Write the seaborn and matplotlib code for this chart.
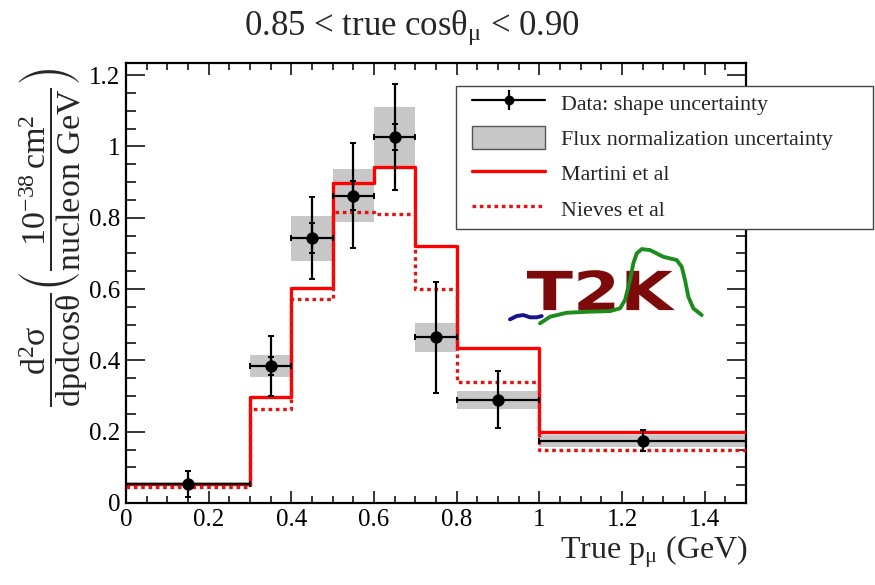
import numpy as np
import pandas as pd
import matplotlib
matplotlib.use("Agg")
import matplotlib.pyplot as plt
import seaborn as sns
from matplotlib.lines import Line2D
from matplotlib.patches import Patch, PathPatch, Rectangle
from matplotlib.textpath import TextPath
from matplotlib.font_manager import FontProperties
from matplotlib.transforms import Affine2D

# ---- binning and measured cross section (0.85 < cos theta < 0.90) ----
bin_edges = [0.0, 0.3, 0.4, 0.5, 0.6, 0.7, 0.8, 1.0, 1.5]
data_xsec = [0.053, 0.384, 0.742, 0.862, 1.027, 0.465, 0.289, 0.175]
shape_err = [0.037, 0.084, 0.115, 0.148, 0.148, 0.156, 0.080, 0.029]
inner_err = [0.000, 0.026, 0.042, 0.041, 0.037, 0.000, 0.000, 0.000]
flux_err = [0.005, 0.032, 0.064, 0.075, 0.085, 0.041, 0.025, 0.017]

# ---- model predictions ----
martini = [0.053, 0.296, 0.604, 0.898, 0.943, 0.720, 0.434, 0.200]
nieves = [0.046, 0.264, 0.572, 0.817, 0.810, 0.600, 0.338, 0.150]

# ---- experiment logo trace ----
wave_green_x = [1.0016, 1.0258, 1.0662, 1.1146, 1.1710, 1.1952, 1.2073, 1.2194,
                1.2274, 1.2356, 1.2477, 1.2677, 1.2999, 1.3323, 1.3444, 1.3524,
                1.3604, 1.3725, 1.3928]
wave_green_y = [0.5038, 0.5223, 0.5335, 0.5363, 0.5383, 0.5459, 0.5692, 0.6252,
                0.6720, 0.7001, 0.7121, 0.7093, 0.6905, 0.6813, 0.6625, 0.6252,
                0.5784, 0.5459, 0.5271]
wave_blue_x = [0.9290, 0.9452, 0.9612, 0.9774, 0.9936, 1.0057]
wave_blue_y = [0.5150, 0.5243, 0.5271, 0.5207, 0.5207, 0.5243]

edges = np.array(bin_edges)
lo, hi = edges[:-1], edges[1:]
centers = 0.5 * (lo + hi)
half_w = 0.5 * (hi - lo)
vals = np.array(data_xsec)

sns.set_style("ticks")
plt.rcParams["font.family"] = ["Liberation Serif", "DejaVu Serif"]
plt.rcParams["mathtext.fontset"] = "custom"
plt.rcParams["mathtext.rm"] = "Liberation Serif"
plt.rcParams["mathtext.it"] = "Liberation Serif"
plt.rcParams["mathtext.bf"] = "Liberation Serif:bold"
plt.rcParams["mathtext.fallback"] = "stix"

fig = plt.figure(figsize=(8.75, 5.85), dpi=100)
ax = fig.add_axes([0.144, 0.1402, 0.7086, 0.7521])

# flux normalisation boxes
ax.bar(lo, 2 * np.array(flux_err), bottom=vals - np.array(flux_err),
       width=hi - lo, align="edge", color="#c8c8c8", edgecolor="none", zorder=1)

# model step histograms
steps = pd.DataFrame({
    "p": np.concatenate([edges, edges]),
    "xsec": np.concatenate([np.append(martini, martini[-1]), np.append(nieves, nieves[-1])]),
    "model": ["Martini et al"] * len(edges) + ["Nieves et al"] * len(edges),
})
sns.lineplot(data=steps[steps.model == "Martini et al"], x="p", y="xsec",
             estimator=None, drawstyle="steps-post", color="#ff0000", lw=2.4,
             ax=ax, zorder=3, legend=False)
sns.lineplot(data=steps[steps.model == "Nieves et al"], x="p", y="xsec",
             estimator=None, drawstyle="steps-post", color="#e01515", lw=2.4,
             dashes=(1.1, 1.1), ax=ax, zorder=3, legend=False)

# data points with shape uncertainty
ax.errorbar(centers, vals, xerr=half_w, yerr=shape_err, fmt="none",
            ecolor="black", elinewidth=1.6, capsize=2.5, capthick=1.4, zorder=4)
ax.errorbar(centers, vals, yerr=inner_err, fmt="none", ecolor="black",
            elinewidth=1.6, capsize=2.5, capthick=1.4, zorder=4)
sns.scatterplot(x=centers, y=vals, color="black", s=70, edgecolor="black",
                linewidth=0.5, ax=ax, zorder=5)

ax.set_xlim(0, 1.5)
ax.set_ylim(0, 1.234)
ax.set_xlabel("")
ax.set_ylabel("")
ax.xaxis.set_major_locator(matplotlib.ticker.MultipleLocator(0.2))
ax.xaxis.set_minor_locator(matplotlib.ticker.MultipleLocator(0.05))
ax.yaxis.set_major_locator(matplotlib.ticker.MultipleLocator(0.2))
ax.yaxis.set_minor_locator(matplotlib.ticker.MultipleLocator(0.05))
fmt = matplotlib.ticker.FuncFormatter(lambda v, p: ("%g" % round(v, 2)))
ax.xaxis.set_major_formatter(fmt)
ax.yaxis.set_major_formatter(fmt)
ax.tick_params(axis="both", which="both", direction="in", top=True, right=True,
               labelsize=18, color="black", labelcolor="black")
ax.tick_params(axis="x", which="major", length=8.5, width=1.1, pad=4)
ax.tick_params(axis="x", which="minor", length=5, width=1.1)
ax.tick_params(axis="y", which="major", length=13.5, width=1.1, pad=4)
ax.tick_params(axis="y", which="minor", length=7, width=1.1)
for s in ax.spines.values():
    s.set_linewidth(1.6)
    s.set_color("black")
    s.set_visible(True)

# logo
tp = TextPath((0, 0), "T2K", size=1, prop=FontProperties(family="DejaVu Sans", weight="bold"))
ext = tp.get_extents()
lx0, lx1, ly0, ly1 = 0.970, 1.328, 0.541, 0.653
tr = (Affine2D().translate(-ext.x0, -ext.y0)
      .scale((lx1 - lx0) / ext.width, (ly1 - ly0) / ext.height)
      .translate(lx0, ly0) + ax.transData)
ax.add_patch(PathPatch(tp, transform=tr, facecolor="#7d0a0a", edgecolor="none", zorder=2))
ax.plot(wave_blue_x, wave_blue_y, color="#14148c", lw=2.8, solid_capstyle="round", zorder=2)
ax.plot(wave_green_x, wave_green_y, color="#1c8c1c", lw=2.8, solid_capstyle="round",
        solid_joinstyle="round", zorder=2)

# legend frame and entries
fig.patches.append(Rectangle((0.5211, 0.6085), 0.4766, 0.2444, transform=fig.transFigure,
                             facecolor="white", edgecolor="#444444", lw=1.0, zorder=5))
h_data = (Line2D([], [], color="black", lw=1.6),
          Line2D([], [], color="black", marker="|", ms=15, mew=1.6, ls=""),
          Line2D([], [], color="black", marker="o", ms=6, ls=""))
h_flux = Patch(facecolor="#c8c8c8", edgecolor="#555555", lw=1.0)
h_mart = Line2D([], [], color="#ff0000", lw=2.4)
h_niev = Line2D([], [], color="#e01515", lw=2.4, dashes=(1.1, 1.1))
leg = fig.legend([h_data, h_flux, h_mart, h_niev],
                 ["Data: shape uncertainty", "Flux normalization uncertainty",
                  "Martini et al", "Nieves et al"],
                 loc="upper left", bbox_to_anchor=(0.5394, 0.8444),
                 fontsize=15.8, frameon=False, handlelength=3.33,
                 handleheight=1.2, labelspacing=0.53, borderpad=0.0,
                 handletextpad=0.73, borderaxespad=0)
leg.set_zorder(6)

# titles and axis labels
fig.text(0.471, 0.952, r"0.85 < true cos$\theta_{\mu}$ < 0.90", ha="center",
         va="center", fontsize=25)
ax.text(1.003, -0.11, r"True p$_{\mu}$ (GeV)", transform=ax.transAxes, ha="right",
        va="center", fontsize=23)
fig.text(0.062, 0.595,
         r"$\dfrac{\mathrm{d^2\sigma}}{\mathrm{dpdcos\theta}}\left(\dfrac{10^{-38}\,\mathrm{cm^2}}{\mathrm{nucleon\ GeV}}\right)$",
         rotation=90, ha="center", va="center", fontsize=24.5)

fig.savefig("out.png", dpi=100)
